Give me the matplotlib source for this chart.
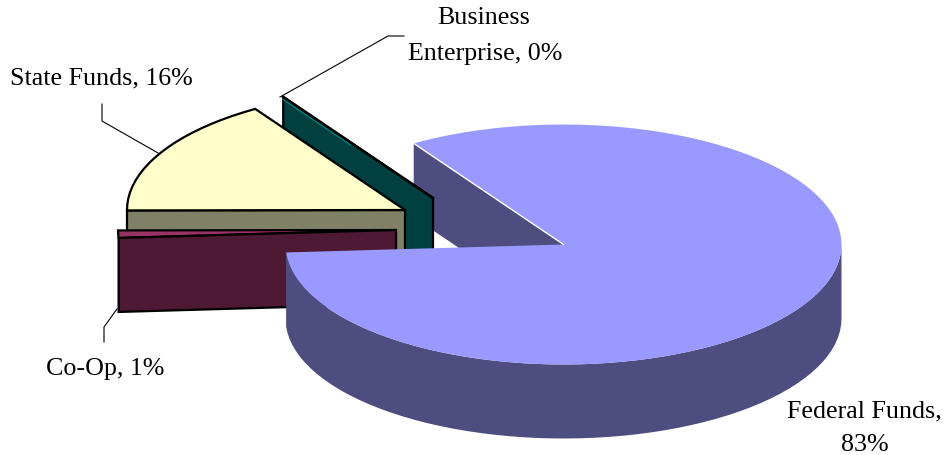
import matplotlib
matplotlib.use('Agg')
import matplotlib.pyplot as plt
import numpy as np

plt.rcParams['font.family'] = ['Liberation Serif', 'DejaVu Serif']

names = ['Federal Funds', 'Co-Op', 'State Funds', 'Business Enterprise']
shares = [83, 1, 16, 0]
top_colors = ['#9999FF', '#993366', '#FFFFCC', '#008080']
side_colors = ['#4D4D80', '#4D1933', '#808066', '#004040']

# slices run clockwise from this angle, on a tilted ellipse
start_angle = 122.6
rx, ry, depth = 278, 120, 74

# where each slice's point sits after being pulled out of the pie
centers = [(563.5, 245.5), (396, 231), (405, 211), (433, 199)]

angles = [start_angle]
for s in shares:
    angles.append(angles[-1] - s * 3.6)


def rim(center, a1, a2):
    t = np.radians(np.linspace(a1, a2, max(2, int(abs(a2 - a1) / 3) + 2)))
    return np.column_stack([center[0] + rx * np.cos(t), center[1] - ry * np.sin(t)])


def wall(ax, center, angle, color, **kw):
    # flat cut face from the point of the slice out to the rim
    p = rim(center, angle, angle)[0]
    c = np.array(center)
    pts = [c, p, p + [0, depth], c + [0, depth]]
    ax.add_patch(plt.Polygon(pts, closed=True, fc=color, **kw))


def top(ax, center, a1, a2, color, **kw):
    pts = np.vstack([[center], rim(center, a1, a2)])
    ax.add_patch(plt.Polygon(pts, closed=True, fc=color, **kw))


fig = plt.figure(figsize=(9.45, 4.56), dpi=100)
ax = fig.add_axes([0, 0, 1, 1])
ax.set_xlim(0, 945)
ax.set_ylim(456, 0)
ax.axis('off')

black = dict(ec='black', lw=1.6, joinstyle='miter')

# cut face of the big slice goes behind the pulled-out ones
wall(ax, centers[0], angles[0], side_colors[0], ec='none')

# Business Enterprise: no area at 0%, only its cut face and a thin edge
wall(ax, centers[3], angles[3], side_colors[3], **black)
tip = rim(centers[3], angles[3], angles[3])[0]
mid = tip + (np.array(centers[3]) - tip) * 0.45
ax.plot([tip[0], mid[0]], [tip[1] + 2.5, mid[1] + 2.5], color=top_colors[3], lw=1, zorder=3)
ax.plot([tip[0], centers[3][0]], [tip[1], centers[3][1]], color='black', lw=1.8, zorder=3)

# State Funds
wall(ax, centers[2], angles[2], side_colors[2], zorder=3, **black)
top(ax, centers[2], angles[2], angles[3], top_colors[2], zorder=3, **black)

# Co-Op
top(ax, centers[1], angles[1], angles[2], top_colors[1], zorder=4, **black)
wall(ax, centers[1], angles[1], side_colors[1], zorder=4, **black)

# Federal Funds: rim below the top face, then the top face itself
arc = rim(centers[0], angles[1] % 360, 360)
side = np.vstack([arc, arc[::-1] + [0, depth]])
ax.add_patch(plt.Polygon(side, closed=True, fc=side_colors[0], ec='none', zorder=5))
top(ax, centers[0], angles[0], angles[1], top_colors[0], ec='none', zorder=6)
p0 = rim(centers[0], angles[0], angles[0])[0]
ax.plot([p0[0], centers[0][0]], [p0[1], centers[0][1]], color='white', lw=1, zorder=7)

# leader lines
ax.plot([102, 102, 158], [105, 122, 154], color='black', lw=0.8, zorder=8)
ax.plot([104, 104, 117], [343, 328, 310], color='black', lw=0.8, zorder=8)
ax.plot([404, 388, 280], [37, 37, 98], color='black', lw=0.8, zorder=8)

font = dict(fontsize=18.7, ha='center', va='center', color='black', zorder=9)
ax.text(101.5, 78, f'{names[2]}, {shares[2]}%', **font)
ax.text(105, 369.5, f'{names[1]}, {shares[1]}%', **font)
ax.text(484, 17.5, 'Business', **font)
ax.text(485, 54, f'Enterprise, {shares[3]}%', **font)
ax.text(864.5, 411, f'{names[0]},', **font)
ax.text(865, 445, f'{shares[0]}%', **font)

fig.savefig('out.png', dpi=100)
